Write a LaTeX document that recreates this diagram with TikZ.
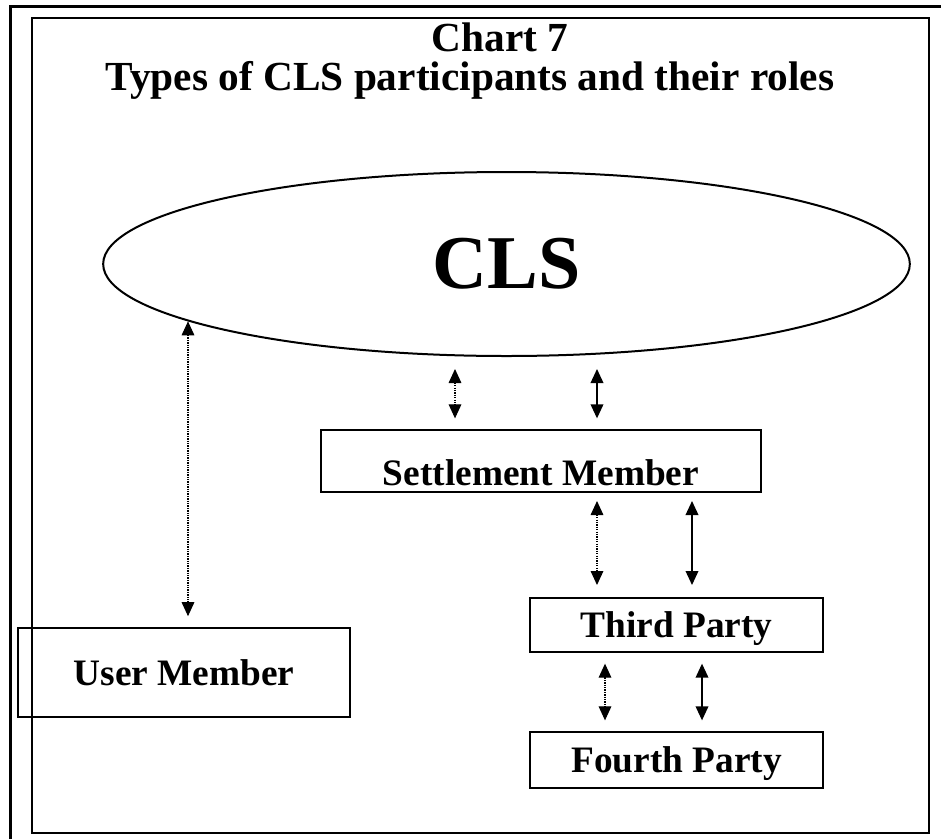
\documentclass[tikz,border=0pt]{standalone}
\usepackage{fontspec}
\setmainfont{Liberation Serif}
\usetikzlibrary{arrows.meta,shapes.geometric}

\begin{document}
\begin{tikzpicture}[x=0.75pt,y=-0.75pt,
        box/.style={draw,line width=1.5pt,inner sep=0pt,text height=25pt,text depth=6pt,font=\fontsize{28}{32}\selectfont\bfseries},
        solidarrow/.style={line width=1.1pt,{Triangle[width=9.5pt,length=10.5pt]}-{Triangle[width=9.5pt,length=10.5pt]},shorten <=9pt,shorten >=8pt},
        dotarrow/.style={solidarrow,line width=0.8pt,dash pattern=on 1pt off 0.8pt}]
        \useasboundingbox (0,0) rectangle (941,839);

        % Marcos
        \draw[line width=2.2pt] (10.5,839) -- (10.5,6.5) -- (941,6.5);
        \draw[line width=1.6pt] (32,18) rectangle (929,833);

        % Titulo
        \node[font=\fontsize{31}{36}\selectfont\bfseries] (chart) at (500,37) {Chart 7};
        \node[font=\fontsize{31}{36}\selectfont\bfseries] (title) at (470,80) {Types of CLS participants and their roles};

        % Nodos
        \node[draw,ellipse,line width=1.5pt,minimum width=605pt,minimum height=138pt,
              font=\fontsize{57}{60}\selectfont\bfseries] (cls) at (506.5,264) {CLS};
        \node[box,minimum width=330pt,minimum height=46.5pt,text height=41pt,text depth=5pt] (settle) at (541,461) {Settlement Member};
        \node[box,minimum width=220pt,minimum height=40.5pt] (third) at (676.5,625) {Third Party};
        \node[box,minimum width=220pt,minimum height=42pt] (fourth) at (676.5,760) {Fourth Party};
        \node[box,minimum width=249pt,minimum height=67pt] (user) at (184,672.5) {User Member};

        % Flechas
        \coordinate (ucls) at (188,320);
        \draw[dotarrow,shorten <=1pt] (ucls) -- (user.north -| ucls);
        \draw[dotarrow] (cls.south -| 455,0) -- (settle.north -| 455,0);
        \draw[solidarrow] (cls.south -| 597,0) -- (settle.north -| 597,0);
        \draw[dotarrow,shorten <=6pt,shorten >=9pt] (settle.south -| 597,0) -- (third.north -| 597,0);
        \draw[solidarrow,shorten <=6pt,shorten >=9pt] (settle.south -| 692,0) -- (third.north -| 692,0);
        \draw[dotarrow,shorten <=8pt,shorten >=8pt] (third.south -| 605,0) -- (fourth.north -| 605,0);
        \draw[solidarrow,shorten <=8pt,shorten >=8pt] (third.south -| 702,0) -- (fourth.north -| 702,0);
    \end{tikzpicture}
\end{document}
